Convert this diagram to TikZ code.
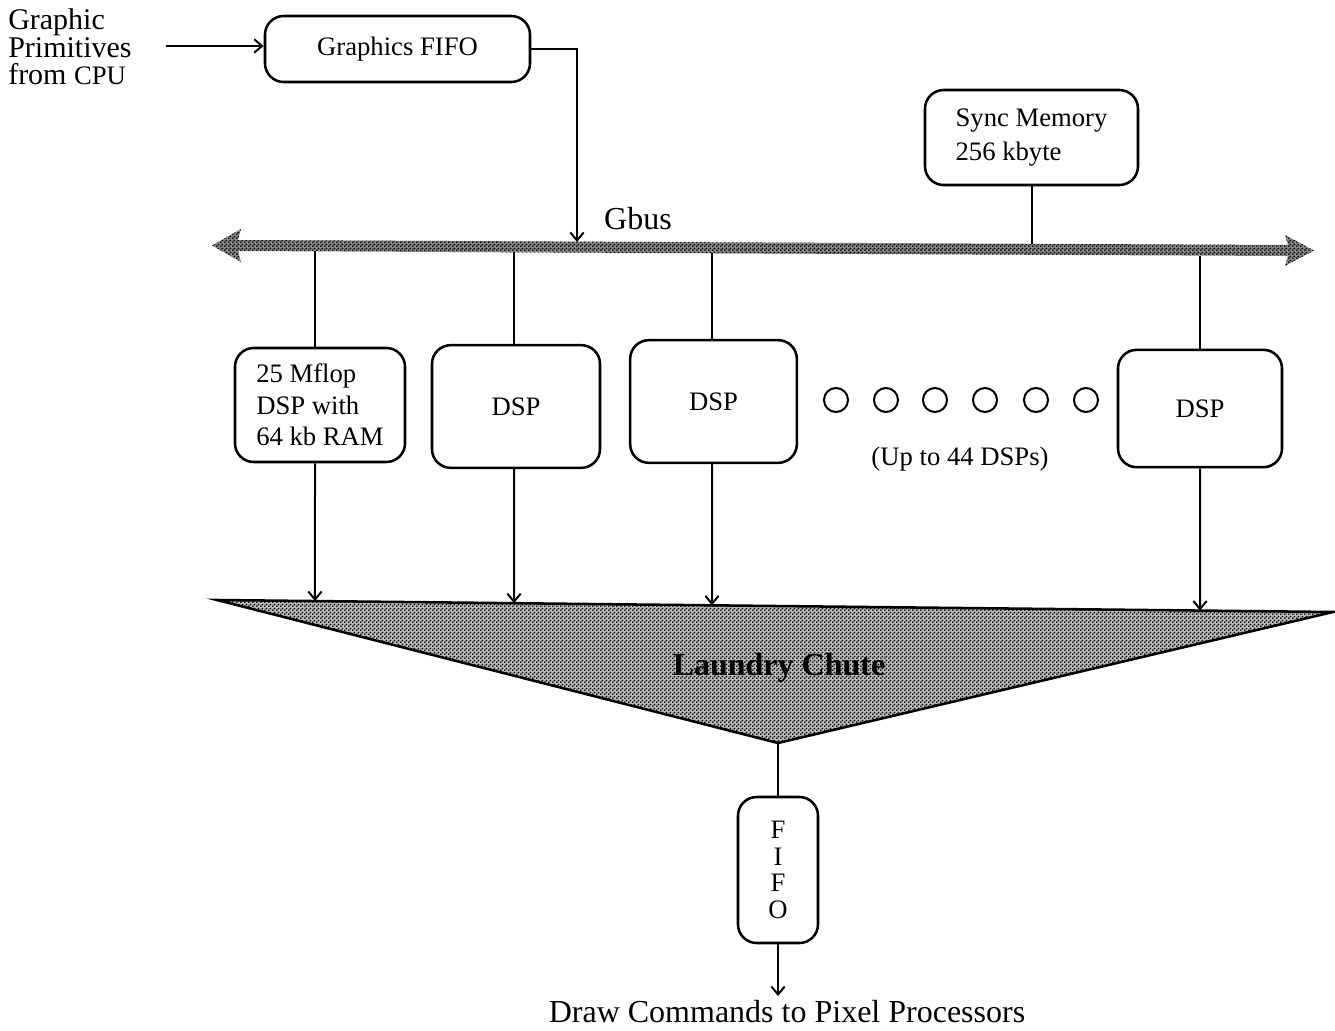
\documentclass[tikz,border=0pt]{standalone}
\usepackage{fontspec}
\setmainfont{Liberation Serif}
\usetikzlibrary{arrows.meta,patterns.meta,calc}

% halftone dot screen used for the bus and the chute
\tikzdeclarepattern{
  name=halftone,
  type=uncolored,
  bounding box={(0pt,0pt) and (3pt,3pt)},
  tile size={(3pt,3pt)},
  code={
    \fill (0.75pt,0.75pt) circle (0.9pt);
    \fill (2.25pt,2.25pt) circle (0.9pt);
  }
}

\begin{document}
\begin{tikzpicture}[x=0.75pt,y=-0.75pt,
  every node/.style={font=\fontsize{20}{24}\selectfont},
  box/.style={draw,line width=1.9pt,rounded corners=14pt,inner sep=0pt},
  wire/.style={line width=1.5pt},
  arr/.style={wire,-{Straight Barb[length=6pt,width=10pt,line width=1.5pt]}},
  bigtext/.style={font=\fontsize{24}{24}\selectfont},
  dot/.style={draw,circle,line width=1.5pt,minimum size=18pt,inner sep=0pt},
]
\useasboundingbox (0,0) rectangle (1335,1031);

% ---- input and graphics FIFO ----
\node[font=\fontsize{22.5}{20.5}\selectfont,align=left,anchor=west,inner sep=0pt] (src) at (8,47)
  {Graphic\\Primitives\\from {\fontsize{20}{20.5}\selectfont CPU}};
\node[box,minimum width=198.75pt,minimum height=49.5pt] (gfifo) at (397.5,49) {Graphics FIFO};
\coordinate (srcout) at ($(src.east)+(34,-1)$);
\draw[arr] (srcout) -- (gfifo.west |- srcout);

% ---- Gbus ----
\def\buspath{(212,245.5) -- (241,229) -- (238,240) -- (1288,245) -- (1285,235)
  -- (1314,250.5) -- (1285,266) -- (1288,256) -- (238,251) -- (241,262) -- cycle}
\fill[black!45] \buspath;
\fill[pattern=halftone] \buspath;
\node[bigtext] (gbus) at (638,219) {Gbus};

\coordinate (gin) at (577,242);
\draw[arr] (gfifo.east) -| (gin);

% ---- sync memory ----
\node[box,align=left,minimum width=159.75pt,minimum height=71.25pt,
  font=\fontsize{20}{25}\selectfont] (sync) at (1031.5,137.5) {Sync Memory\\256 kbyte};
\coordinate (sin) at (1031.5,244);
\draw[wire] (sync.south) -- (sin);

% ---- DSP processors ----
\node[box,align=left,minimum width=127.5pt,minimum height=85.5pt,
  font=\fontsize{20}{23.6}\selectfont] (dsp1) at (320,405) {25 Mflop\\DSP with\\64 kb RAM};
\node[box,minimum width=126pt,minimum height=92pt] (dsp2) at (516,406.5) {DSP};
\node[box,minimum width=125pt,minimum height=92pt] (dsp3) at (713.5,401.5) {DSP};
\node[box,minimum width=123pt,minimum height=88pt] (dsp4) at (1200,408.5) {DSP};

\foreach \i/\x in {1/836,2/886,3/935,4/985,5/1036,6/1086}
  \node[dot] (dot\i) at (\x,400) {};
\node (more) at (960,459) {(Up to 44 DSPs)};

% ---- laundry chute ----
\coordinate (cl) at (217,600);
\coordinate (cr) at (1333,612);
\coordinate (apex) at (778,743);
\fill[black!25] (cl) -- (cr) -- (apex) -- cycle;
\draw[line width=1.9pt,line join=miter,pattern=halftone] (cl) -- (cr) -- (apex) -- cycle;
\node[font=\bfseries\fontsize{24}{24}\selectfont] (chute) at (779,668) {Laundry Chute};

% bus taps and chute inputs
\foreach \n/\x/\y in {1/315/251.4,2/514/252.3,3/712/253.3,4/1200/255.6}{
  \coordinate (b\n) at (\x,\y);
  \coordinate (t\n) at ($(cl)!{(\x-217)/1116}!(cr)$);
  \draw[wire] (b\n) -- (b\n |- dsp\n.north);
  \draw[arr] (b\n |- dsp\n.south) -- (t\n);
}

% ---- output FIFO ----
\node[box,align=center,minimum width=60pt,minimum height=109.5pt,
  font=\fontsize{20}{20}\selectfont] (fifo) at (778,870) {F\\I\\F\\O};
\draw[wire] (apex) -- (fifo.north);
\node[bigtext] (out) at (787,1012) {Draw Commands to Pixel Processors};
\draw[arr] (fifo.south) -- (fifo.south |- out.north);
\end{tikzpicture}
\end{document}
